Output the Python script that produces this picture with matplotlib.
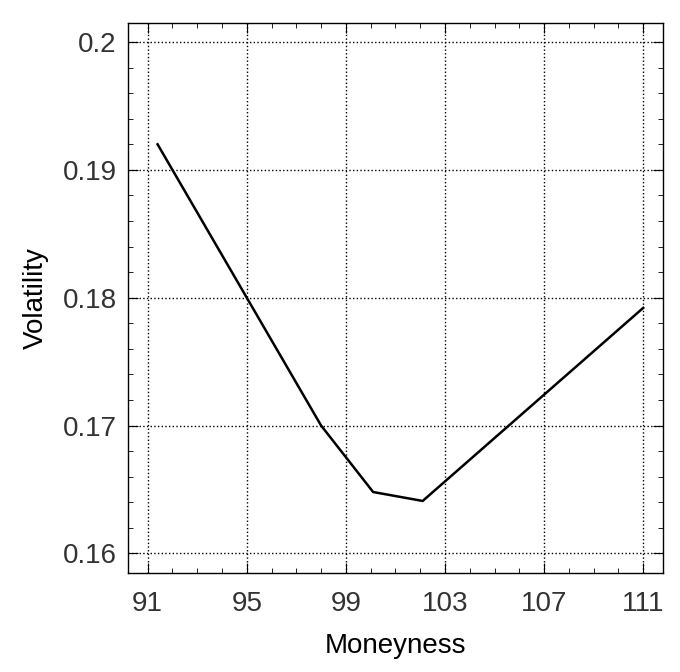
import numpy as np
import matplotlib.pyplot as plt
from matplotlib.ticker import MultipleLocator

moneyness = [91.4, 98, 100.1, 102.1, 111]
volatility = [0.192, 0.170, 0.1648, 0.1641, 0.1792]
xticks = [91, 95, 99, 103, 107, 111]
yticks = [0.16, 0.17, 0.18, 0.19, 0.2]

plt.rcParams['font.family'] = ['Liberation Sans', 'DejaVu Sans']

fig = plt.figure(figsize=(6.8, 6.72), dpi=100)
ax = fig.add_axes([0.188, 0.148, 0.787, 0.818])

ax.plot(moneyness, volatility, color='black', lw=1.8)

ax.set_xlim(90.2, 111.8)
ax.set_ylim(0.1585, 0.2015)
ax.set_xticks(xticks)
ax.set_xticklabels([str(t) for t in xticks])
ax.set_yticks(yticks)
ax.set_yticklabels(['0.16', '0.17', '0.18', '0.19', '0.2'])
ax.xaxis.set_minor_locator(MultipleLocator(1))
ax.yaxis.set_minor_locator(MultipleLocator(0.002))
ax.tick_params(which='both', direction='in', top=True, right=True, colors='black')
ax.tick_params(which='major', length=7, labelsize=20, labelcolor='#333333')
ax.tick_params(axis='x', which='major', pad=13)
ax.tick_params(axis='y', which='major', pad=8)
ax.tick_params(which='minor', length=3.5)
ax.grid(True, which='major', color='black', linestyle=':', lw=1.0)
for s in ax.spines.values():
    s.set_linewidth(1.0)

ax.set_xlabel('Moneyness', fontsize=20, labelpad=12)
ax.set_ylabel('Volatility', fontsize=20, labelpad=10)

fig.savefig('out.png', dpi=100)
